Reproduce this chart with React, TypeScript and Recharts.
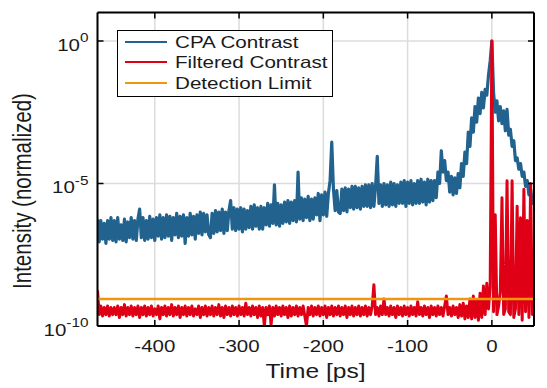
import { LineChart, Line, XAxis, YAxis, CartesianGrid, Legend } from "recharts";

// time axis in ps
const TIME = [
  -468, -466, -464, -462, -460, -458, -456, -454, -452, -450,
  -448, -446, -444, -442, -440, -438, -436, -434, -432, -430,
  -428, -426, -424, -422, -420, -418, -416, -414, -412, -410,
  -408, -406, -404, -402, -400, -398, -396, -394, -392, -390,
  -388, -386, -384, -382, -380, -378, -376, -374, -372, -370,
  -368, -366, -364, -362, -360, -358, -356, -354, -352, -350,
  -348, -346, -344, -342, -340, -338, -336, -334, -332, -330,
  -328, -326, -324, -322, -320, -318, -316, -314, -312, -310,
  -308, -306, -304, -302, -300, -298, -296, -294, -292, -290,
  -288, -286, -284, -282, -280, -278, -276, -274, -272, -270,
  -268, -266, -264, -262, -260, -258, -256, -254, -252, -250,
  -248, -246, -244, -242, -240, -238, -236, -234, -232, -230,
  -228, -226, -224, -222, -220, -218, -216, -214, -212, -210,
  -208, -206, -204, -202, -200, -198, -196, -194, -192, -190,
  -188, -186, -184, -182, -180, -178, -176, -174, -172, -170,
  -168, -166, -164, -162, -160, -158, -156, -154, -152, -150,
  -148, -146, -144, -142, -140, -138, -136, -134, -132, -130,
  -128, -126, -124, -122, -120, -118, -116, -114, -112, -110,
  -108, -106, -104, -102, -100, -98, -96, -94, -92, -90,
  -88, -86, -84, -82, -80, -78, -76, -74, -72, -70,
  -68, -66, -64, -62, -60, -58, -56, -54, -52, -50,
  -48, -46, -44, -42, -40, -38, -36, -34, -32, -30,
  -28, -26, -24, -22, -20, -18, -16, -14, -12, -10,
  -8, -6, -4, -2, 0, 2, 4, 6, 8, 10,
  12, 14, 16, 18, 20, 22, 24, 26, 28, 30,
  32, 34, 36, 38, 40, 42, 44, 46, 48, 50,
];

// log10 of normalized intensity
const CPA_LOG = [
  -6.25, -7.05, -6.3, -6.95, -6.4, -7.1, -6.3, -6.95, -6.2, -7.0,
  -6.3, -7.05, -6.2, -6.95, -6.45, -7.0, -6.25, -7.05, -6.35, -6.9,
  -6.2, -6.95, -6.3, -7.0, -6.25, -5.9, -6.9, -6.2, -7.0, -6.3,
  -6.95, -6.15, -6.9, -6.25, -7.0, -6.2, -6.85, -6.1, -6.95, -6.2,
  -6.9, -6.1, -6.85, -6.15, -7.0, -6.2, -6.8, -6.05, -6.9, -6.15,
  -6.85, -6.1, -7.1, -6.2, -6.85, -6.05, -6.8, -6.15, -6.95, -6.1,
  -6.75, -6.0, -6.8, -6.05, -6.7, -6.1, -6.8, -6.9, -6.05, -6.75,
  -5.95, -6.7, -6.0, -6.65, -5.9, -6.75, -6.0, -6.65, -5.95, -5.6,
  -6.6, -5.85, -6.65, -5.9, -6.6, -5.85, -6.7, -5.9, -6.6, -5.95,
  -6.55, -5.8, -6.6, -5.75, -6.5, -5.85, -6.6, -5.8, -6.6, -5.85,
  -6.45, -5.7, -6.5, -5.75, -6.4, -5.05, -6.45, -5.7, -6.5, -5.75,
  -6.4, -5.65, -6.35, -5.6, -6.4, -5.65, -6.3, -5.6, -6.35, -4.6,
  -6.25, -5.5, -6.3, -5.55, -6.2, -5.45, -6.3, -5.55, -6.25, -5.5,
  -6.1, -5.35, -6.3, -5.4, -6.1, -5.3, -6.15, -5.35, -4.9, -3.55,
  -5.2, -5.95, -5.25, -6.0, -6.05, -5.2, -5.95, -5.15, -6.0, -5.2,
  -5.85, -5.1, -5.9, -5.1, -5.85, -5.15, -5.9, -5.1, -5.8, -5.05,
  -5.8, -5.05, -5.85, -5.0, -5.8, -5.1, -4.05, -5.7, -5.05, -5.8,
  -5.0, -5.75, -5.05, -5.8, -4.95, -5.75, -5.0, -5.8, -5.05, -5.7,
  -4.95, -5.7, -4.9, -5.8, -4.95, -5.7, -4.9, -5.75, -5.0, -5.7,
  -4.9, -5.7, -4.85, -5.65, -4.95, -5.75, -4.85, -5.65, -4.9, -5.6,
  -4.9, -5.5, -4.6, -5.0, -3.85, -4.6, -4.2, -4.9, -4.6, -5.3,
  -4.75, -5.4, -4.8, -5.35, -4.65, -5.15, -4.3, -4.75, -3.9, -4.3,
  -3.2, -3.7, -2.7, -3.2, -2.3, -2.85, -2.0, -2.55, -1.8, -2.35,
  -1.7, -1.9, -1.2, -0.7, 0, -1.8, -2.5, -2.1, -2.8, -2.3,
  -2.9, -2.45, -3.15, -2.4, -3.3, -3.1, -3.7, -3.5, -4.2, -4.1,
  -4.5, -4.3, -4.75, -4.6, -5.1, -4.9, -5.4, -5.2, -5.7, -5.5,
];

const FILTERED_LOG = [
  -8.75, -9.6, -9.3, -9.65, -9.35, -9.6, -9.3, -9.65, -9.35, -9.6,
  -9.35, -9.6, -9.3, -9.7, -9.35, -9.6, -9.25, -9.65, -9.35, -9.6,
  -9.3, -9.65, -9.35, -9.6, -9.3, -9.7, -9.35, -9.6, -9.3, -9.65,
  -9.35, -9.6, -9.3, -9.65, -9.4, -9.6, -9.3, -9.75, -9.35, -9.6,
  -9.3, -9.65, -9.35, -9.6, -9.25, -9.65, -9.35, -9.6, -9.3, -9.7,
  -9.35, -9.6, -9.3, -9.65, -9.35, -9.6, -9.3, -9.65, -9.4, -9.6,
  -9.3, -9.7, -9.35, -9.6, -9.3, -9.65, -9.35, -9.6, -9.3, -9.65,
  -9.35, -9.6, -9.25, -9.65, -9.35, -9.7, -9.3, -9.6, -9.35, -9.65,
  -9.3, -9.6, -9.35, -9.65, -9.3, -9.6, -9.35, -9.65, -9.2, -9.6,
  -9.35, -9.65, -9.3, -9.6, -9.35, -9.7, -9.3, -9.65, -9.35, -10.0,
  -9.35, -9.6, -9.3, -9.95, -9.35, -9.65, -9.3, -9.6, -9.35, -9.65,
  -9.3, -9.6, -9.35, -9.7, -9.3, -9.65, -9.35, -9.6, -9.3, -9.65,
  -9.35, -9.6, -9.3, -9.65, -10.0, -9.35, -9.6, -9.3, -9.65, -9.35,
  -9.6, -9.3, -9.65, -9.35, -9.6, -9.3, -9.7, -9.35, -9.6, -9.3,
  -9.65, -9.35, -9.6, -9.3, -9.65, -9.35, -9.6, -9.3, -9.7, -9.35,
  -9.6, -9.3, -9.65, -9.35, -9.6, -9.3, -9.65, -9.35, -9.6, -9.3,
  -9.65, -9.35, -9.6, -9.3, -8.55, -9.6, -9.35, -9.65, -9.3, -9.6,
  -9.05, -9.6, -9.35, -9.65, -9.3, -9.6, -9.35, -9.7, -9.3, -9.6,
  -9.35, -9.65, -9.3, -9.6, -9.35, -9.65, -9.3, -9.6, -9.35, -9.65,
  -9.15, -9.6, -9.35, -9.65, -9.3, -9.6, -9.35, -9.7, -9.3, -9.6,
  -9.35, -9.65, -9.3, -9.6, -9.35, -9.65, -9.3, -8.95, -9.6, -9.35,
  -9.65, -9.3, -9.6, -9.35, -9.7, -9.25, -9.65, -9.2, -9.75, -9.3,
  -9.7, -9.05, -9.75, -8.95, -9.7, -9.1, -9.8, -8.85, -9.7, -8.6,
  -9.6, -8.5, -9.4, -8.6, 0, -9.5, -6.1, -9.6, -9.3, -8.8,
  -5.5, -9.6, -9.4, -4.9, -9.5, -9.6, -4.9, -9.7, -9.4, -5.8,
  -9.6, -6.2, -9.8, -5.2, -9.5, -6.3, -9.7, -5.0, -9.6, -9.4,
];

const DETECTION_LOG = -9.05;

const X_TICKS = [-400, -300, -200, -100, 0];
const Y_TICKS = [-10, -5, 0];
const SERIES_NAMES = ["CPA Contrast", "Filtered Contrast", "Detection Limit"];

const BLUE = "#21628f";
const RED = "#df0016";
const ORANGE = "#f0960c";
const INK = "#1a1a1a";
const FONT = "'Liberation Sans', Arial, sans-serif";
const STRETCH = 1.28;

const data = TIME.map((t, i) => ({
  t,
  cpa: CPA_LOG[i],
  filtered: FILTERED_LOG[i],
  limit: DETECTION_LOG,
}));

// eslint-disable-next-line @typescript-eslint/no-explicit-any
function BottomTick({ x, y, payload }: any) {
  return (
    <g>
      <line x1={x} x2={x} y1={y} y2={y - 6} stroke="#000" strokeWidth={1.5} />
      <g transform={`translate(${x},${y + 26}) scale(${STRETCH},1)`}>
        <text textAnchor="middle" fontSize={16} fill={INK} fontFamily={FONT}>
          {payload.value}
        </text>
      </g>
    </g>
  );
}

// eslint-disable-next-line @typescript-eslint/no-explicit-any
function TopTick({ x, y }: any) {
  return <line x1={x} x2={x} y1={y} y2={y + 6} stroke="#000" strokeWidth={1.5} />;
}

// eslint-disable-next-line @typescript-eslint/no-explicit-any
function LeftTick({ x, y, payload }: any) {
  return (
    <g>
      <line x1={x} x2={x + 6} y1={y} y2={y} stroke="#000" strokeWidth={1.5} />
      <g transform={`translate(${x - 9},${y + 9.5}) scale(${STRETCH},1)`}>
        <text textAnchor="end" fontSize={16} fill={INK} fontFamily={FONT}>
          10
          <tspan dy={-8.5} fontSize={12}>
            {payload.value}
          </tspan>
        </text>
      </g>
    </g>
  );
}

// eslint-disable-next-line @typescript-eslint/no-explicit-any
function RightTick({ x, y }: any) {
  return <line x1={x} x2={x - 6} y1={y} y2={y} stroke="#000" strokeWidth={1.5} />;
}

function XTitle() {
  return (
    <g transform={`translate(315.5,378) scale(1.26,1)`}>
      <text textAnchor="middle" fontSize={19.5} fill={INK} fontFamily={FONT}>
        Time [ps]
      </text>
    </g>
  );
}

function YTitle() {
  return (
    <text
      transform="translate(22,191) rotate(-90) scale(1,1.25)"
      textAnchor="middle"
      dominantBaseline="central"
      fontSize={20.5}
      fill={INK}
      fontFamily={FONT}
    >
      Intensity (normalized)
    </text>
  );
}

function LegendBox() {
  const colors = [BLUE, RED, ORANGE];
  const centers = [12.3, 32.3, 53.3];
  return (
    <div
      style={{
        position: "relative",
        width: 216,
        height: 67,
        boxSizing: "border-box",
        border: "1.5px solid #000",
        background: "#fff",
        fontFamily: FONT,
      }}
    >
      {SERIES_NAMES.map((name, i) => (
        <div key={name}>
          <div
            style={{
              position: "absolute",
              left: 6.5,
              top: centers[i] - 1.5 - 1.25,
              width: 42,
              height: 2.5,
              background: colors[i],
            }}
          />
          <div
            style={{
              position: "absolute",
              left: 56.5,
              top: centers[i] - 1.5 - 10,
              height: 20,
              lineHeight: "20px",
              fontSize: 16.5,
              color: INK,
              whiteSpace: "nowrap",
              transform: `scaleX(${STRETCH - 0.03})`,
              transformOrigin: "left center",
            }}
          >
            {name}
          </div>
        </div>
      ))}
    </div>
  );
}

export default function App() {
  return (
    <div style={{ position: "absolute", left: 0, top: 0, background: "#fff" }}>
      <LineChart
        width={547}
        height={388}
        data={data}
        margin={{ top: 0, right: 0, bottom: 0, left: 0 }}
      >
        <CartesianGrid stroke="#dcdcdc" strokeWidth={1.5} />
        <XAxis
          dataKey="t"
          type="number"
          domain={[-468, 50]}
          ticks={X_TICKS}
          allowDataOverflow
          height={62}
          tickSize={0}
          tickMargin={0}
          tickLine={false}
          tick={<BottomTick />}
          axisLine={{ stroke: "#000", strokeWidth: 2 }}
          label={<XTitle />}
        />
        <XAxis
          xAxisId="top"
          orientation="top"
          dataKey="t"
          type="number"
          domain={[-468, 50]}
          ticks={X_TICKS}
          allowDataOverflow
          height={12.5}
          tickSize={0}
          tickMargin={0}
          tickLine={false}
          tick={<TopTick />}
          axisLine={{ stroke: "#000", strokeWidth: 2 }}
        />
        <YAxis
          type="number"
          domain={[-10, 1]}
          ticks={Y_TICKS}
          allowDataOverflow
          width={97.5}
          tickSize={0}
          tickMargin={0}
          tickLine={false}
          tick={<LeftTick />}
          axisLine={{ stroke: "#000", strokeWidth: 2 }}
          label={<YTitle />}
        />
        <YAxis
          yAxisId="right"
          orientation="right"
          type="number"
          domain={[-10, 1]}
          ticks={Y_TICKS}
          allowDataOverflow
          width={13}
          tickSize={0}
          tickMargin={0}
          tickLine={false}
          tick={<RightTick />}
          axisLine={{ stroke: "#000", strokeWidth: 2 }}
        />
        <Line
          dataKey="cpa"
          name={SERIES_NAMES[0]}
          stroke={BLUE}
          strokeWidth={3.2}
          strokeLinejoin="round"
          dot={false}
          isAnimationActive={false}
        />
        <Line
          dataKey="filtered"
          name={SERIES_NAMES[1]}
          stroke={RED}
          strokeWidth={3}
          strokeLinejoin="round"
          dot={false}
          isAnimationActive={false}
        />
        <Line
          dataKey="limit"
          name={SERIES_NAMES[2]}
          stroke={ORANGE}
          strokeWidth={2.5}
          dot={false}
          isAnimationActive={false}
        />
        <Legend
          layout="vertical"
          align="center"
          verticalAlign="middle"
          content={<LegendBox />}
          wrapperStyle={{ left: 117, top: 30, width: 216, height: 67 }}
        />
      </LineChart>
    </div>
  );
}
